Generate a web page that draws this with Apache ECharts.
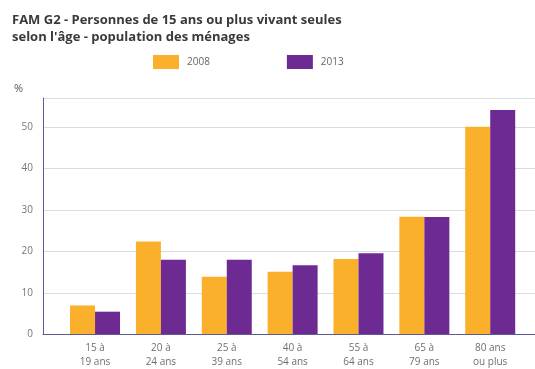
<!DOCTYPE html>
<html>
<head>
<meta charset="utf-8">
<script src="https://cdn.jsdelivr.net/npm/echarts@6/dist/echarts.min.js"></script>
<style>
  html, body { margin: 0; padding: 0; background: #fff; }
  #chart { width: 535px; height: 369px; }
</style>
</head>
<body>
<div id="chart"></div>
<script>
// Age groups (two-line labels)
const categories = ['15 à\n19 ans', '20 à\n24 ans', '25 à\n39 ans', '40 à\n54 ans', '55 à\n64 ans', '65 à\n79 ans', '80 ans\nou plus'];
// Share of people living alone, in %
const values2008 = [7.0, 22.4, 13.9, 15.1, 18.2, 28.4, 50.1];
const values2013 = [5.5, 18.0, 18.0, 16.7, 19.6, 28.3, 54.1];
const seriesNames = ['2008', '2013'];
const yTicks = [0, 10, 20, 30, 40, 50];

const FONT = '"Open Sans", "DejaVu Sans", sans-serif';
const ORANGE = '#fbb02b';
const PURPLE = '#6c2a92';
const AXIS = '#5f5a94';

const toPoints = arr => arr.map((v, i) => [i, v]);
const titleStyle = { fontFamily: FONT, fontSize: 13, fontWeight: 'bold', color: '#3a3a3a' };

const chart = echarts.init(document.getElementById('chart'), null, { renderer: 'canvas' });
chart.setOption({
  animation: false,
  textStyle: { fontFamily: FONT },
  title: [
    { text: 'FAM G2 - Personnes de 15 ans ou plus vivant seules', left: 7, top: 9, textStyle: titleStyle },
    { text: 'selon l\'âge - population des ménages', left: 7, top: 26, textStyle: titleStyle },
    {
      text: '%',
      left: 9, top: 78,
      textStyle: { fontFamily: FONT, fontSize: 11, fontWeight: 'normal', color: '#555' }
    }
  ],
  legend: {
    left: 153, top: 55, padding: 0,
    itemWidth: 26, itemHeight: 14, itemGap: 77,
    icon: 'rect',
    textStyle: { fontFamily: FONT, fontSize: 10, color: '#666', padding: [0, 0, 0, 3] },
    data: seriesNames
  },
  grid: { left: 43, right: 0, top: 98, bottom: 34.5, containLabel: false },
  xAxis: {
    type: 'value',
    min: -0.79, max: 6.68,
    z: 5,
    axisLine: { show: true, onZero: false, lineStyle: { color: AXIS, width: 1 } },
    axisTick: { show: false },
    splitLine: { show: false },
    axisLabel: {
      customValues: categories.map((c, i) => i),
      formatter: v => categories[Math.round(v)],
      fontFamily: FONT, fontSize: 10, color: '#6f6f6f', lineHeight: 13.5, margin: 7,
      align: 'center'
    }
  },
  yAxis: {
    type: 'value',
    min: 0, max: 57,
    axisLine: { show: true, onZero: false, lineStyle: { color: AXIS, width: 1 } },
    axisTick: { show: false },
    splitLine: { show: true, lineStyle: { color: '#dcdcdc', width: 1 } },
    axisLabel: {
      customValues: yTicks,
      fontFamily: FONT, fontSize: 10, color: '#777', margin: 10
    }
  },
  series: [
    {
      name: seriesNames[0], type: 'bar', barWidth: 25, barGap: '0%',
      itemStyle: { color: ORANGE },
      data: toPoints(values2008)
    },
    {
      name: seriesNames[1], type: 'bar', barWidth: 25, barGap: '0%',
      itemStyle: { color: PURPLE },
      data: toPoints(values2013)
    }
  ]
});
</script>
</body>
</html>
